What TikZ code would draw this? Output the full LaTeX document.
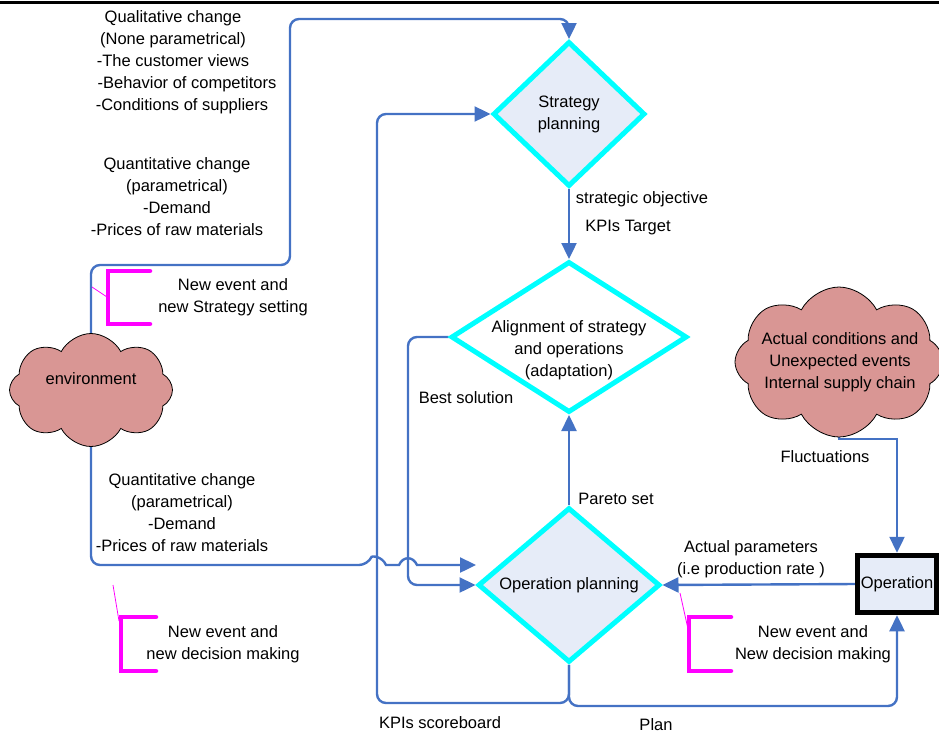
\documentclass[tikz,border=0pt]{standalone}
\usepackage{fontspec}
\setmainfont{Liberation Sans}
\usepackage{xcolor}
\usepackage{tikz}
\usetikzlibrary{shapes.geometric,shapes.symbols}
\usetikzlibrary{arrows.meta}
\usetikzlibrary{backgrounds}
\definecolor{flowblue}{RGB}{68,114,196}
\definecolor{planfill}{RGB}{230,236,248}
\definecolor{cloudfill}{RGB}{217,150,148}
\definecolor{diamond edge}{RGB}{0,255,255}
\definecolor{bracket edge}{RGB}{255,0,255}
\tikzset{flow/.style={draw=flowblue, line width=2.4pt, rounded corners=9pt,
        -{Triangle[length=16pt,width=15pt]}},
    decision/.style={diamond, draw=diamond edge, line width=5pt, inner sep=0pt, align=center},
    cloudy/.style={cloud, cloud puffs=8, cloud puff arc=125, draw=black, line width=0.8pt,
        fill=cloudfill, inner sep=0pt},
    bracket/.style={draw=bracket edge, line width=4.5pt, line cap=round},
    pointer/.style={draw=bracket edge, line width=0.8pt},
    note/.style={align=center, inner sep=0pt}}

\begin{document}
\begin{tikzpicture}[x=1pt, y=-1pt, font=\fontsize{16.5}{22}\selectfont]
    \useasboundingbox (0,0) rectangle (939,737);
    \draw[line width=3pt] (0,2) -- (939,2);

    % planning blocks
    \node[decision, fill=planfill, minimum width=152pt, minimum height=145pt] (strat) at (569,114) {Strategy\\planning};
    \node[decision, fill=white, minimum width=236pt, minimum height=151pt] (align) at (569,337) {};
    \node[note] (aligntext) at (569,350) {Alignment of strategy\\and operations\\(adaptation)};
    \node[decision, fill=planfill, minimum width=182pt, minimum height=130pt] (opplan) at (569,585) {Operation planning};
    \node[draw, line width=5.5pt, fill=planfill, minimum width=79pt, minimum height=57pt, inner sep=1pt] (op) at (897,584) {Operation};

    % clouds
    \node[cloudy, minimum width=163pt, minimum height=113pt] (env) at (91,390) {};
    \node (envtext) at (91,379) {environment};
    \node[cloudy, minimum width=208pt, minimum height=150pt] (ucloud) at (839,362) {};
    \node[note] (uctext) at (840,362) {Actual conditions and\\Unexpected events\\Internal supply chain};

    \coordinate (opinlane) at (476,565);
    \coordinate (flucturn) at (897,439);

    \begin{scope}[on background layer]
        \draw[flow] (strat.south) -- (align.north);
        \draw[flow] (opplan.north) -- (align.south);
        \draw[flow] (op.west) -- (opplan.east);
        \draw[flow, sharp corners] (ucloud.south) |- (flucturn) -- (op.north);
        \draw[flow] (opplan.south) |- (897,706) -- (op.south);
        \draw[flow] (opplan.south) |- (377,703) |- (strat.west);
        \draw[flow] (align.west) -| (408,585) -- (opplan.west);
        \draw[flow] (env.center) |- (290,265) |- (569,19) -- (strat.north);
        \draw[flow] (env.center) -- (91,565) -- (368,565) [sharp corners]
            .. controls (372,556) and (382,556) .. (386,565) -- (399,565)
            .. controls (403,556) and (413,556) .. (417,565) -- (opinlane);
    \end{scope}

    % event markers
    \draw[bracket] (150,271) -- (108,271) -- (108,324) -- (150,324);
    \draw[pointer] (92,287) -- (107,297);
    \draw[bracket] (156,617) -- (121,617) -- (121,671) -- (156,671);
    \draw[pointer] (113,585) -- (119,621);
    \draw[bracket] (731,617) -- (689,617) -- (689,671) -- (731,671);
    \draw[pointer] (680,593) -- (688,629);

    % texts
    \node[note] (qualtext) at (173,62) {Qualitative change\\(None parametrical)\\-The customer views\\
        \hspace*{28pt}-Behavior of competitors\\\hspace*{18pt}-Conditions of suppliers};
    \node[note] (quanttop) at (177,197) {Quantitative change\\(parametrical)\\-Demand\\-Prices of raw materials};
    \node[note] (quantbot) at (182,513) {Quantitative change\\(parametrical)\\-Demand\\-Prices of raw materials};
    \node[note] (stratnote) at (233,297) {New event and\\new Strategy setting};
    \node[note] (decnote) at (223,644) {New event and\\new decision making};
    \node[note] (opnote) at (813,644) {New event and\\New decision making};
    \node (objlabel) at (642,199) {strategic objective};
    \node (kpilabel) at (628,228) {KPIs Target};
    \node (bestlabel) at (466,398) {Best solution};
    \node (paretolabel) at (616,499) {Pareto set};
    \node[note] (actlabel) at (751,559) {Actual parameters\\(i.e production rate )};
    \node (fluclabel) at (825,457) {Fluctuations};
    \node (kpisb) at (440,723) {KPIs scoreboard};
    \node (planlabel) at (656,725) {Plan};
\end{tikzpicture}
\end{document}
